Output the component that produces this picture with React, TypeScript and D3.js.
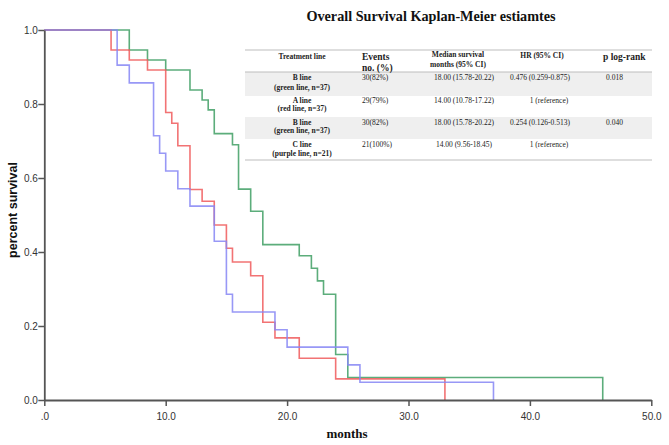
import React, { useEffect, useRef } from 'react';
import * as d3 from 'd3';

// Kaplan-Meier step data (time in months, survival)
const greenTimes = [0, 7, 8.5, 10, 12, 13, 13.5, 14, 15.5, 16, 17, 18, 21, 22, 22.5, 23, 24, 25, 46];
const greenSurv = [1, 0.946, 0.919, 0.892, 0.838, 0.811, 0.784, 0.72, 0.69, 0.57, 0.51, 0.42, 0.39, 0.356, 0.322, 0.286, 0.123, 0.061, 0];

const redTimes = [0, 5.5, 7, 8.5, 10, 10.5, 11, 12, 13, 14, 15, 15.5, 17, 18, 19, 21, 24, 33];
const redSurv = [1, 0.946, 0.919, 0.892, 0.777, 0.748, 0.687, 0.569, 0.537, 0.473, 0.41, 0.373, 0.336, 0.21, 0.168, 0.113, 0.057, 0];

const blueTimes = [0, 6, 7, 9, 9.5, 10, 11, 12, 14, 15, 15.5, 19, 20, 25, 26, 37];
const blueSurv = [1, 0.905, 0.857, 0.714, 0.667, 0.619, 0.571, 0.524, 0.429, 0.286, 0.238, 0.19, 0.143, 0.095, 0.048, 0];

const xTicks = [0, 10, 20, 30, 40, 50];
const yTicks = [0, 0.2, 0.4, 0.6, 0.8, 1.0];

// table contents
const headTreatment = 'Treatment line';
const rowName = ['B line', 'A line', 'B line', 'C line'];
const rowSub = ['(green line, n=37)', '(red line, n=37)', '(green line, n=37)', '(purple line, n=21)'];
const rowEvents = ['30(82%)', '29(79%)', '30(82%)', '21(100%)'];
const rowMedian = ['18.00 (15.78-20.22)', '14.00 (10.78-17.22)', '18.00 (15.78-20.22)', '14.00 (9.56-18.45)'];
const rowHR = ['0.476 (0.259-0.875)', '1 (reference)', '0.254 (0.126-0.513)', '1 (reference)'];
const rowP = ['0.018', '', '0.040', ''];

const series = [
    { times: greenTimes, surv: greenSurv, color: '#3f9f64' },
    { times: redTimes, surv: redSurv, color: '#f05a5c' },
    { times: blueTimes, surv: blueSurv, color: '#8686f4' },
];

const W = 669;
const H = 445;
const serif = '"Liberation Serif", "Times New Roman", serif';
const sans = '"Liberation Sans", Arial, sans-serif';

const App: React.FC = () => {
    const svgRef = useRef<SVGSVGElement>(null);

    useEffect(() => {
        if (!svgRef.current) return;
        const svg = d3.select(svgRef.current);
        svg.selectAll('*').remove();

        const x = d3.scaleLinear().domain([0, 50]).range([44.3, 651.3]);
        const y = d3.scaleLinear().domain([0, 1]).range([400, 30]);

        // curves
        const line = d3.line<[number, number]>()
            .x(d => x(d[0]))
            .y(d => y(d[1]))
            .curve(d3.curveStepAfter);

        series.forEach(s => {
            const pts = s.times.map((t, i) => [t, s.surv[i]] as [number, number]);
            svg.append('path')
                .datum(pts)
                .attr('fill', 'none')
                .attr('stroke', s.color)
                .attr('stroke-width', 1.6)
                .attr('stroke-opacity', 0.85)
                .attr('d', line);
        });

        // axes
        const xAxis = svg.append('g')
            .attr('transform', `translate(0,${y(0)})`)
            .call(d3.axisBottom(x).tickValues(xTicks).tickSize(6).tickSizeOuter(0)
                .tickFormat(d => (+d === 0 ? '.0' : d3.format('.1f')(+d))));
        const yAxis = svg.append('g')
            .attr('transform', `translate(${x(0)},0)`)
            .call(d3.axisLeft(y).tickValues(yTicks).tickSize(6).tickSizeOuter(0)
                .tickFormat(d => d3.format('.1f')(+d)));

        [xAxis, yAxis].forEach(a => {
            a.select('.domain').attr('stroke', '#555').attr('stroke-width', 1.8);
            a.selectAll('.tick line').attr('stroke', '#555').attr('stroke-width', 1.5);
            a.selectAll('.tick text').attr('fill', '#333').attr('font-family', sans).attr('font-size', 10);
        });
        xAxis.selectAll('.tick text').attr('dy', '1.05em');
        yAxis.selectAll('.tick text').attr('x', -6.5);

        // axis titles
        svg.append('text')
            .attr('transform', `translate(17,210) rotate(-90)`)
            .attr('text-anchor', 'middle')
            .attr('font-family', sans)
            .attr('font-weight', 'bold')
            .attr('font-size', 12.5)
            .attr('fill', '#111')
            .text('percent survival');

        svg.append('text')
            .attr('x', 347)
            .attr('y', 437.5)
            .attr('text-anchor', 'middle')
            .attr('font-family', serif)
            .attr('font-weight', 'bold')
            .attr('font-size', 13)
            .attr('fill', '#111')
            .text('months');

        // title
        svg.append('text')
            .attr('x', 431)
            .attr('y', 20.5)
            .attr('text-anchor', 'middle')
            .attr('font-family', serif)
            .attr('font-weight', 'bold')
            .attr('font-size', 14.2)
            .attr('fill', '#111')
            .text('Overall Survival Kaplan-Meier estiamtes');

        // table
        const tbl = svg.append('g');
        const tx0 = 245;
        const tx1 = 652;
        const rowTop = [72, 96, 117, 139];
        const rowBot = [96, 117, 139, 160];

        rowTop.forEach((t, i) => {
            tbl.append('rect')
                .attr('x', tx0).attr('y', t)
                .attr('width', tx1 - tx0).attr('height', rowBot[i] - t)
                .attr('fill', i % 2 === 0 ? '#efefef' : '#ffffff');
        });
        [50, 72, 160].forEach(ly => {
            tbl.append('line')
                .attr('x1', tx0).attr('x2', tx1)
                .attr('y1', ly).attr('y2', ly)
                .attr('stroke', '#bdbdbd').attr('stroke-width', 1);
        });

        const txt = (tx: number, ty: number, s: string, size: number, bold: boolean, anchor: string) => {
            tbl.append('text')
                .attr('x', tx).attr('y', ty)
                .attr('dy', '0.35em')
                .attr('text-anchor', anchor)
                .attr('font-family', serif)
                .attr('font-weight', bold ? 'bold' : 'normal')
                .attr('font-size', size)
                .attr('fill', '#222')
                .text(s);
        };

        // header
        txt(302, 56, headTreatment, 7.5, true, 'middle');
        txt(362, 57, 'Events', 9.5, true, 'start');
        txt(362, 68, 'no. (%)', 9.5, true, 'start');
        txt(458, 54.5, 'Median survival', 7.5, true, 'middle');
        txt(458, 64.5, 'months (95% CI)', 7.5, true, 'middle');
        txt(542, 55, 'HR (95% CI)', 7.5, true, 'middle');
        txt(603, 57, 'p log-rank', 9.5, true, 'start');

        const nameY = [77.7, 100, 122.3, 144];
        const subY = [87.3, 108.3, 130.7, 153.3];
        rowName.forEach((n, i) => {
            txt(302, nameY[i], n, 7.5, true, 'middle');
            txt(302, subY[i], rowSub[i], 7.5, true, 'middle');
            txt(362, nameY[i], rowEvents[i], 7.5, false, 'start');
            txt(464, nameY[i], rowMedian[i], 7.5, false, 'middle');
            txt(rowHR[i].startsWith('1 ') ? 549 : 540, nameY[i], rowHR[i], 7.5, false, 'middle');
            if (rowP[i]) txt(606, nameY[i], rowP[i], 7.5, false, 'start');
        });
    }, []);

    return (
        <svg
            ref={svgRef}
            width={W}
            height={H}
            style={{ position: 'absolute', left: 0, top: 0, background: '#fff' }}
        />
    );
};

export default App;
